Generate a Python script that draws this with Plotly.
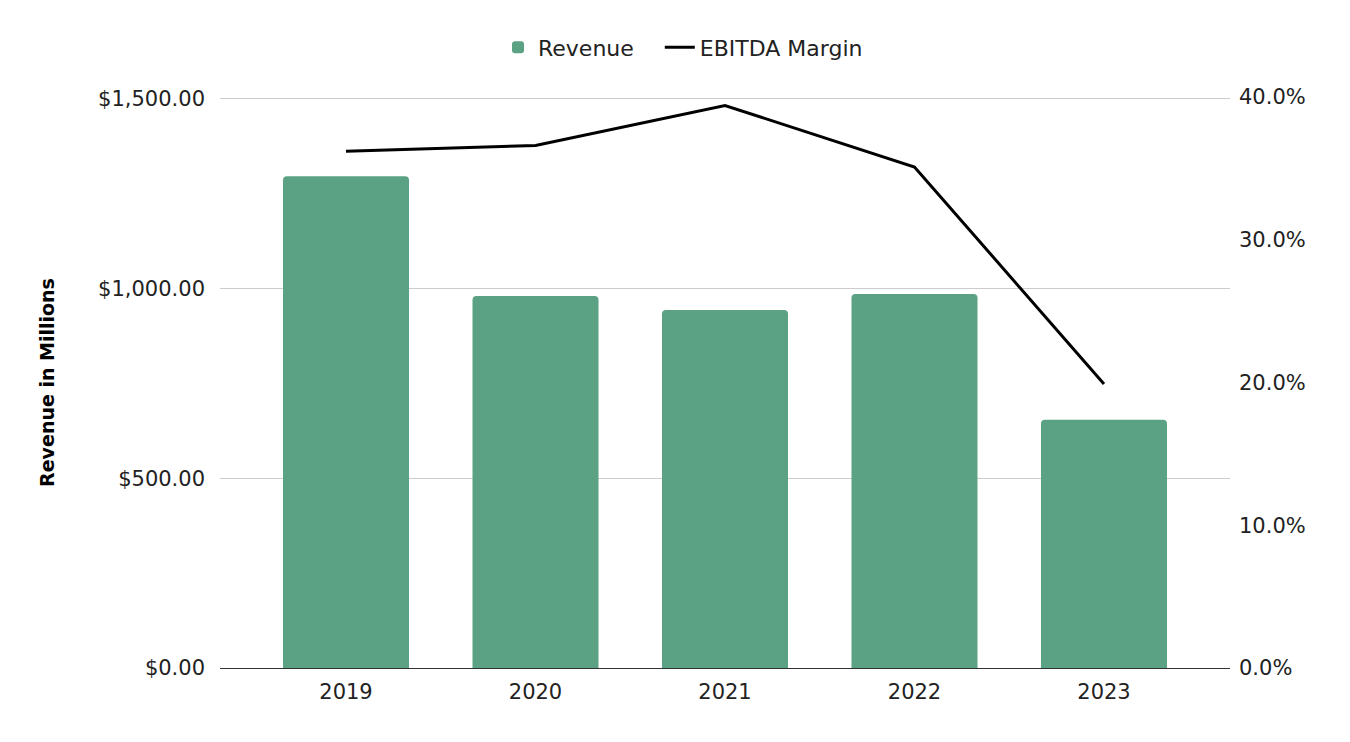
import plotly.graph_objects as go

years = ["2019", "2020", "2021", "2022", "2023"]
revenue = [1295, 980, 943, 985, 654]
ebitda_margin = [0.362, 0.366, 0.394, 0.351, 0.199]

bar_color = "#5aa283"
font_family = "DejaVu Sans, Liberation Sans, Arial, sans-serif"
text_color = "#222222"

fig = go.Figure()
fig.add_trace(go.Bar(
    x=years, y=revenue, name="Revenue" + "\u00a0" * 3,
    marker=dict(color=bar_color, cornerradius=4, line=dict(width=0)),
    width=0.665, yaxis="y",
))
fig.add_trace(go.Scatter(
    x=years, y=ebitda_margin, name="EBITDA Margin", mode="lines",
    line=dict(color="#000000", width=3), yaxis="y2",
))

fig.update_layout(
    width=1350, height=742,
    margin=dict(l=212, r=128, t=89, b=82),
    paper_bgcolor="white", plot_bgcolor="white",
    font=dict(family=font_family, size=21, color=text_color),
    showlegend=True,
    legend=dict(orientation="h", xref="container", yref="container",
                x=0.5, xanchor="center", y=0.947, yanchor="middle",
                font=dict(size=22, color=text_color), itemwidth=30,
                traceorder="normal"),
    xaxis=dict(
        range=[-0.665, 4.665], showgrid=False,
        showline=True, linecolor="#333333", linewidth=1.2,
        ticks="", ticklabelstandoff=5,
        tickfont=dict(size=21, color=text_color),
    ),
    yaxis=dict(
        range=[0, 1504], tickvals=[0, 500, 1000, 1500], tickformat="$,.2f",
        showgrid=True, gridcolor="#cccccc", gridwidth=1.2,
        zeroline=False, ticks="", ticklabelstandoff=14,
        tickfont=dict(size=21, color=text_color),
        title=dict(text="<b>Revenue in Millions</b>", standoff=38,
                   font=dict(size=19, color="#000000")),
    ),
    yaxis2=dict(
        range=[0, 0.4], dtick=0.1, tickformat=".1%",
        overlaying="y", side="right", showgrid=False, zeroline=False,
        ticks="", ticklabelstandoff=8,
        tickfont=dict(size=21, color=text_color),
    ),
)

fig.write_html("out.html")
